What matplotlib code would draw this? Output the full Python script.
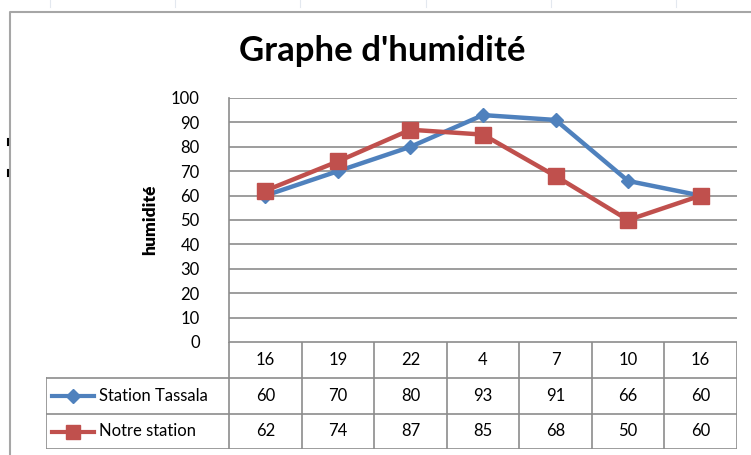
import matplotlib.pyplot as plt
from matplotlib.lines import Line2D

# hours of the readings and humidity (%) for each station
hours = ['16', '19', '22', '4', '7', '10', '16']
tassala = [60, 70, 80, 93, 91, 66, 60]
notre = [62, 74, 87, 85, 68, 50, 60]
series_names = ['Station Tassala', 'Notre station']
title = "Graphe d'humidité"
ylabel = 'humidité'
yticks = list(range(0, 101, 10))

blue = '#4F81BD'
red = '#C0504D'
grid = '#8C8C8C'
font = 'Lato'

W, H = 751, 455
fig = plt.figure(figsize=(W / 100, H / 100), dpi=100)


def box(x0, y0, x1, y1):
    # pixel box (top-left origin) -> figure fraction rect
    return [x0 / W, 1 - y1 / H, (x1 - x0) / W, (y1 - y0) / H]


# outer chart frame
frame = fig.add_axes([0, 0, 1, 1])
frame.set_xlim(0, W)
frame.set_ylim(H, 0)
frame.axis('off')
frame.plot([10, 10, W], [H, 12, 12], color='#A6A6A6', lw=1.5)
for y in (142, 173):
    frame.plot([8, 8], [y - 3, y + 3], color='black', lw=1.5)
for x in (50, 175, 300, 426, 551, 676):
    frame.plot([x, x], [0, 7], color='#E3E8EF', lw=0.8)

fig.text(382 / W, 1 - 51 / H, title, ha='center', va='center',
         fontsize=25, fontweight='bold', family=font)

# plot area
ax = fig.add_axes(box(229, 98, 737, 342))
xs = range(len(hours))
ax.plot(xs, tassala, color=blue, lw=3.2, marker='D', ms=7.5,
        markerfacecolor=blue, markeredgecolor=blue, zorder=3)
ax.plot(xs, notre, color=red, lw=3.2, marker='s', ms=11,
        markerfacecolor=red, markeredgecolor=red, zorder=4)
ax.set_xlim(-0.5, len(hours) - 0.5)
ax.set_ylim(0, 100)
ax.set_yticks(yticks)
ax.set_xticks([])
ax.yaxis.grid(True, color=grid, lw=1.2)
ax.set_axisbelow(True)
for s in ('top', 'right', 'bottom'):
    ax.spines[s].set_visible(False)
ax.spines['left'].set_color(grid)
ax.spines['left'].set_linewidth(1.2)
ax.tick_params(axis='y', length=0, pad=21, labelsize=12)
for lab in ax.get_yticklabels():
    lab.set_family(font)
ax.set_ylabel(ylabel, fontsize=12.5, fontweight='heavy', family=font,
              labelpad=9)

# data table under the plot
tb = fig.add_axes(box(46, 342, 737, 449))
tb.set_xlim(46, 737)
tb.set_ylim(449, 342)
tb.axis('off')
left, lab_right = 46, 229
colw = (737 - lab_right) / len(hours)
rows = [342, 378, 414, 449]
lc = dict(color=grid, lw=1.2)
for i in range(len(hours) + 1):
    x = lab_right + i * colw
    tb.plot([x, x], [rows[0], rows[-1]], **lc)
tb.plot([left, left], [rows[1], rows[-1]], **lc)
tb.plot([lab_right, 737], [rows[0], rows[0]], **lc)
for y in rows[1:]:
    tb.plot([left, 737], [y, y], **lc)

for r, vals in enumerate([hours, tassala, notre]):
    yc = (rows[r] + rows[r + 1]) / 2
    for i, v in enumerate(vals):
        tb.text(lab_right + (i + 0.5) * colw, yc, str(v), ha='center',
                va='center', fontsize=12, family=font)

for r, (name, col, mk, ms) in enumerate(zip(series_names, [blue, red],
                                            ['D', 's'], [7, 10])):
    yc = (rows[r + 1] + rows[r + 2]) / 2
    tb.add_line(Line2D([52, 94], [yc, yc], color=col, lw=3))
    tb.add_line(Line2D([73], [yc], marker=mk, ms=ms, color=col))
    tb.text(99, yc, name, ha='left', va='center', fontsize=12, family=font)

fig.savefig('out.png', dpi=100)
